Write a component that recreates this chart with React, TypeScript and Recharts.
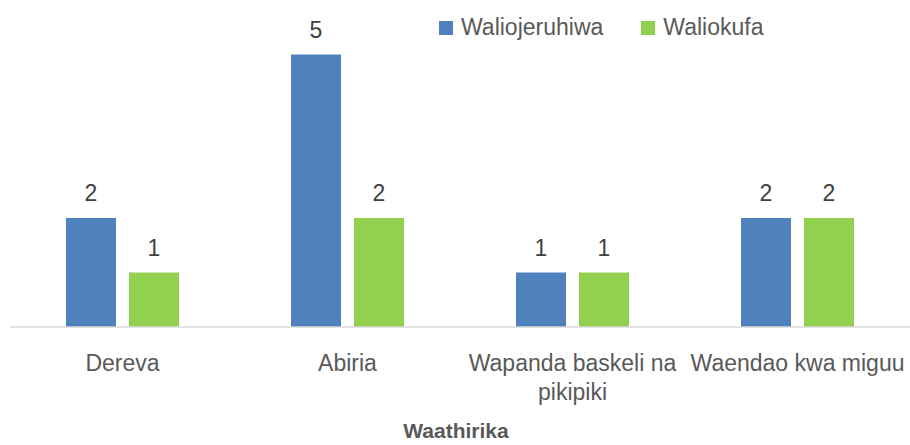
import { BarChart, Bar, XAxis, YAxis, LabelList } from "recharts";

// ─── Data ────────────────────────────────────────────────────────────────────

const CATEGORIES = ["Dereva", "Abiria", "Wapanda baskeli na pikipiki", "Waendao kwa miguu"];
const WALIOJERUHIWA = [2, 5, 1, 2];
const WALIOKUFA = [1, 2, 1, 2];
const SERIES_NAMES = ["Waliojeruhiwa", "Waliokufa"];
const AXIS_TITLE = "Waathirika";

const data = CATEGORIES.map((name, i) => ({
  name,
  waliojeruhiwa: WALIOJERUHIWA[i],
  waliokufa: WALIOKUFA[i],
}));

// ─── Styles ──────────────────────────────────────────────────────────────────

const FONT = "'Liberation Sans', Arial, sans-serif";
const BLUE = "#4F81BD";
const GREEN = "#92D050";
const TEXT = "#595959";
const LABEL = "#404040";
const TICK_SIZE = 23;
const TICK_WIDTH = 225;

// word-wrap a label to the category width
function wrapWords(str: string): string[] {
  const ctx = document.createElement("canvas").getContext("2d");
  if (!ctx) return [str];
  ctx.font = `${TICK_SIZE}px ${FONT}`;
  const lines: string[] = [];
  let cur = "";
  for (const w of str.split(" ")) {
    const next = cur ? `${cur} ${w}` : w;
    if (cur && ctx.measureText(next).width > TICK_WIDTH) {
      lines.push(cur);
      cur = w;
    } else {
      cur = next;
    }
  }
  if (cur) lines.push(cur);
  return lines;
}

function WrappedTick({ x, y, payload }: any) {
  const lines = wrapWords(String(payload.value));
  return (
    <text x={x} y={y} textAnchor="middle" fontSize={TICK_SIZE} fontFamily={FONT} fill={TEXT}>
      {lines.map((l, i) => (
        <tspan key={i} x={x} dy={i === 0 ? 16 : 29}>
          {l}
        </tspan>
      ))}
    </text>
  );
}

export default function App() {
  return (
    <div style={{ position: "absolute", left: 0, top: 0, width: 910, height: 445, background: "#fff" }}>
      <BarChart
        width={910}
        height={445}
        data={data}
        margin={{ top: 0, right: 0, left: 10, bottom: 0 }}
        barSize={50}
        barGap={13}
      >
        <XAxis
          dataKey="name"
          height={118}
          tickLine={false}
          axisLine={{ stroke: "#d9d9d9", strokeWidth: 1.5 }}
          tick={<WrappedTick />}
          tickMargin={22}
          interval={0}
          label={{
            value: AXIS_TITLE,
            position: "insideBottom",
            offset: 7,
            dx: -4,
            fontSize: 21,
            fontWeight: "bold",
            fontFamily: FONT,
            fill: TEXT,
          }}
        />
        <YAxis hide domain={[0, 6]} />
        <Bar dataKey="waliojeruhiwa" name={SERIES_NAMES[0]} fill={BLUE} isAnimationActive={false}>
          <LabelList dataKey="waliojeruhiwa" position="top" offset={17} fontSize={23} fontFamily={FONT} fill={LABEL} />
        </Bar>
        <Bar dataKey="waliokufa" name={SERIES_NAMES[1]} fill={GREEN} isAnimationActive={false}>
          <LabelList dataKey="waliokufa" position="top" offset={17} fontSize={23} fontFamily={FONT} fill={LABEL} />
        </Bar>
      </BarChart>

      {/* Legend */}
      <div style={{ position: "absolute", left: 439, top: 14, display: "flex", alignItems: "center", fontFamily: FONT, fontSize: 23, color: TEXT }}>
        {SERIES_NAMES.map((s, i) => (
          <div key={s} style={{ display: "flex", alignItems: "center", marginRight: i === 0 ? 38 : 0 }}>
            <span style={{ display: "inline-block", width: 14, height: 14, background: i === 0 ? BLUE : GREEN, marginRight: 8 }} />
            <span>{s}</span>
          </div>
        ))}
      </div>
    </div>
  );
}
